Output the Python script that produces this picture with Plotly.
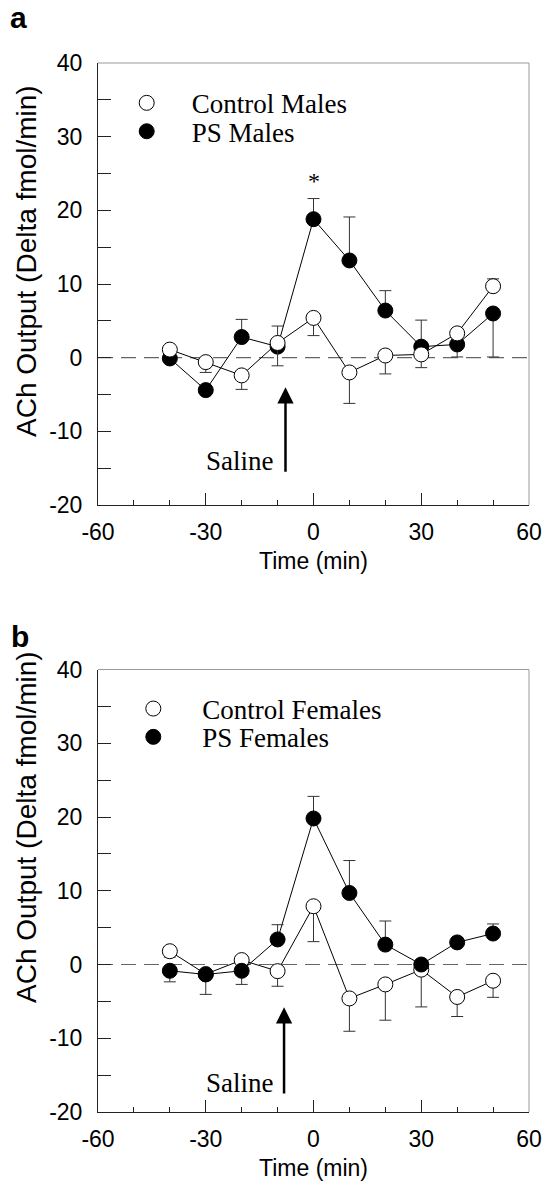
import plotly.graph_objects as go

# ---------------- data ----------------
time_min = [-40, -30, -20, -10, 0, 10, 20, 30, 40, 50]

# panel a (males)
ctrl_males = [1.1, -0.6, -2.4, 2.0, 5.4, -2.0, 0.3, 0.45, 3.3, 9.7]
ctrl_males_up = [0, 0, 0, 0, 0, 0, 0, 0, 0, 1.0]
ctrl_males_dn = [0, 1.4, 1.9, 3.1, 2.4, 4.2, 2.5, 1.8, 0, 0]
ps_males = [-0.1, -4.4, 2.8, 1.5, 18.8, 13.2, 6.4, 1.5, 1.8, 6.0]
ps_males_up = [0, 0, 2.4, 2.8, 2.8, 5.9, 2.7, 3.6, 0, 0]
ps_males_dn = [0, 0, 0, 0, 0, 0, 0, 0, 1.7, 5.9]

# panel b (females)
ctrl_females = [1.8, -1.3, 0.6, -0.9, 7.9, -4.6, -2.7, -0.7, -4.4, -2.2]
ctrl_females_up = [0, 0, 0, 0, 0, 0, 0, 0, 0, 0]
ctrl_females_dn = [0.8, 0, 0, 2.05, 4.8, 4.45, 4.85, 5.05, 2.65, 2.25]
ps_females = [-0.85, -1.35, -0.85, 3.4, 19.8, 9.7, 2.7, 0.0, 3.0, 4.2]
ps_females_up = [0, 0, 0, 2.0, 3.0, 4.4, 3.2, 0, 0, 1.3]
ps_females_dn = [1.5, 2.7, 1.85, 0, 0, 0, 0, 0, 0, 0]

x_ticks = [-60, -30, 0, 30, 60]
x_tick_labels = ["-60", "-30", "0", "30", "60"]
x_minor = [-50, -40, -20, -10, 10, 20, 40, 50]
y_ticks = [-20, -10, 0, 10, 20, 30, 40]
y_tick_labels = ["-20", "-10", "0", "10", "20", "30", "40"]

SANS = "Liberation Sans, Arial, sans-serif"
SERIF = "Liberation Serif, Times New Roman, serif"
INK = "#222222"

fig = go.Figure()


def add_panel(xa, ya, series, legends):
    # connecting lines first
    for (vals, up, dn, filled, name), lg in zip(series, legends):
        fig.add_trace(go.Scatter(
            x=time_min, y=vals, mode="lines", xaxis=xa, yaxis=ya,
            line=dict(color="black", width=1), showlegend=False,
            hoverinfo="skip"))
    # markers with one-sided error bars
    for (vals, up, dn, filled, name), lg in zip(series, legends):
        fig.add_trace(go.Scatter(
            x=time_min, y=vals, mode="markers", name=name,
            xaxis=xa, yaxis=ya, legend=lg,
            marker=dict(size=15, symbol="circle",
                        color="black" if filled else "white",
                        line=dict(color="black", width=1)),
            error_y=dict(type="data", symmetric=False, array=up,
                         arrayminus=dn, color="#333333", thickness=1,
                         width=6)))


add_panel("x", "y",
          [(ps_males, ps_males_up, ps_males_dn, True, "PS Males"),
           (ctrl_males, ctrl_males_up, ctrl_males_dn, False, "Control Males")],
          ["legend2", "legend"])
add_panel("x2", "y2",
          [(ctrl_females, ctrl_females_up, ctrl_females_dn, False, "Control Females"),
           (ps_females, ps_females_up, ps_females_dn, True, "PS Females")],
          ["legend3", "legend4"])

xcommon = dict(range=[-60, 60], tickvals=x_ticks, ticktext=x_tick_labels,
               ticks="inside", ticklen=12, tickcolor=INK, tickwidth=1,
               minor=dict(tickvals=x_minor, ticks="inside", ticklen=5,
                          tickcolor=INK, tickwidth=1),
               showline=True, linecolor=INK, linewidth=1, showgrid=False,
               zeroline=False, automargin=False,
               tickfont=dict(family=SANS, size=23, color="black"),
               ticklabelstandoff=6,
               title=dict(text="Time (min)", font=dict(family=SANS, size=23, color="black"),
                          standoff=9))
ycommon = dict(range=[-20, 40], tickvals=y_ticks, ticktext=y_tick_labels,
               ticks="inside", ticklen=13, tickcolor=INK, tickwidth=1,
               minor=dict(dtick=5, ticks="inside", ticklen=13, tickcolor=INK, tickwidth=1),
               showline=True, linecolor=INK, linewidth=1, showgrid=False,
               zeroline=False, automargin=False,
               tickfont=dict(family=SANS, size=23, color="black"),
               ticklabelstandoff=10)

legend_common = dict(font=dict(family=SERIF, size=27, color="black"),
                     bgcolor="rgba(0,0,0,0)", borderwidth=0,
                     xanchor="left", yanchor="middle", itemclick=False)

PH = 1049.0
def py(pix):
    return (1112 - pix) / PH

def px(pix):
    return (pix - 98) / 431.0

fig.update_layout(
    width=547, height=1199,
    margin=dict(l=98, r=18, t=63, b=87, autoexpand=False),
    paper_bgcolor="white", plot_bgcolor="white",
    xaxis=dict(domain=[0, 1], anchor="y", **xcommon),
    yaxis=dict(domain=[0.5786, 1], anchor="x", **ycommon),
    xaxis2=dict(domain=[0, 1], anchor="y2", **xcommon),
    yaxis2=dict(domain=[0, 0.4218], anchor="x2", **ycommon),
    legend=dict(x=px(101.7), y=py(103.3), itemwidth=80, **legend_common),
    legend2=dict(x=px(101.7), y=py(131.7), itemwidth=80, **legend_common),
    legend3=dict(x=px(104.3), y=py(709), itemwidth=88, **legend_common),
    legend4=dict(x=px(104.3), y=py(737.3), itemwidth=88, **legend_common),
    showlegend=True,
)

# frame: top and right edges (lighter)
for xr, yr in (("x domain", "y domain"), ("x2 domain", "y2 domain")):
    fig.add_shape(type="line", xref=xr, yref=yr, x0=0, x1=1, y0=1, y1=1,
                  line=dict(color="#999999", width=1))
    fig.add_shape(type="line", xref=xr, yref=yr, x0=1, x1=1, y0=0, y1=1,
                  line=dict(color="#999999", width=1))

# dashed zero lines
fig.add_shape(type="line", xref="x domain", yref="y", x0=0, x1=1, y0=0, y1=0,
              line=dict(color="#666666", width=1.2, dash="15px,8px"), layer="below")
fig.add_shape(type="line", xref="x2 domain", yref="y2", x0=0, x1=1, y0=0, y1=0,
              line=dict(color="#666666", width=1.2, dash="15px,8px"), layer="below")

annotations = [
    dict(text="<b>a</b>", xref="paper", yref="paper", x=px(9), y=py(0),
         xanchor="left", yanchor="top", showarrow=False, borderpad=0,
         font=dict(family=SANS, size=30, color="black")),
    dict(text="<b>b</b>", xref="paper", yref="paper", x=px(9), y=py(636),
         xanchor="left", yanchor="middle", showarrow=False,
         font=dict(family=SANS, size=30, color="black")),
    dict(text="ACh Output (Delta fmol/min)", xref="paper", yref="paper",
         x=px(26), y=py(261), textangle=-90, xanchor="center", yanchor="middle",
         showarrow=False, font=dict(family=SANS, size=28, color="black")),
    dict(text="ACh Output (Delta fmol/min)", xref="paper", yref="paper",
         x=px(26), y=py(827), textangle=-90, xanchor="center", yanchor="middle",
         showarrow=False, font=dict(family=SANS, size=28, color="black")),
    # asterisk
    dict(text="*", xref="x", yref="y", x=0, y=24.0, showarrow=False,
         font=dict(family=SERIF, size=24, color="black")),
    # saline labels
    dict(text="Saline", xref="x", yref="y", x=-20.6, y=-14.0, showarrow=False,
         font=dict(family=SERIF, size=27, color="black")),
    dict(text="Saline", xref="x2", yref="y2", x=-20.6, y=-16.0, showarrow=False,
         font=dict(family=SERIF, size=27, color="black")),
    # arrows
    dict(text="", xref="x", yref="y", x=-7.8, y=-4.0, axref="x", ayref="y",
         ax=-7.8, ay=-15.7, showarrow=True, arrowhead=2, arrowsize=1.3,
         arrowwidth=2.5, arrowcolor="black"),
    dict(text="", xref="x2", yref="y2", x=-8.2, y=-5.8, axref="x2", ayref="y2",
         ax=-8.2, ay=-17.7, showarrow=True, arrowhead=2, arrowsize=1.3,
         arrowwidth=2.5, arrowcolor="black"),
]
fig.update_layout(annotations=annotations)

fig.write_html("out.html", config={"displayModeBar": False},
               post_script="document.body.style.margin='0';document.body.style.overflow='hidden';")
